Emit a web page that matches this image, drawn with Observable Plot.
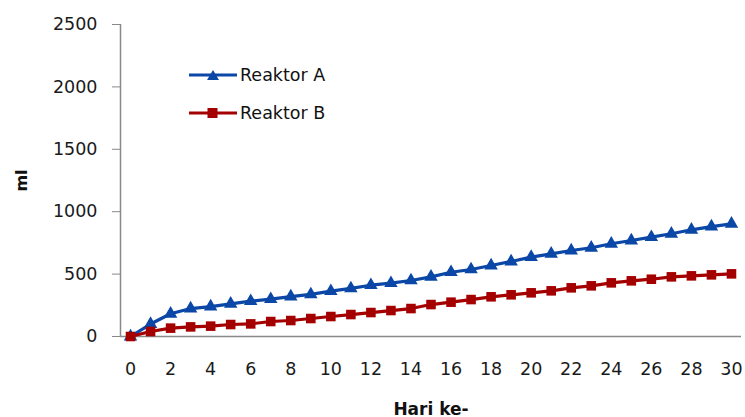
<!DOCTYPE html>
<html>
<head>
<meta charset="utf-8">
<script src="https://cdn.jsdelivr.net/npm/d3@7"></script>
<script src="https://cdn.jsdelivr.net/npm/@observablehq/plot@0.6"></script>
<style>
  html, body { margin: 0; padding: 0; background: #fff; }
  #wrap { position: relative; width: 745px; height: 417px; }
  .legend { position: absolute; left: 189px; font-family: "DejaVu Sans", sans-serif; font-size: 17.5px; color: #111; display: flex; align-items: center; height: 20px; line-height: 20px; }
  .legend svg { margin-right: 3px; }
</style>
</head>
<body>
<div id="wrap"></div>
<script>
const days = [0,1,2,3,4,5,6,7,8,9,10,11,12,13,14,15,16,17,18,19,20,21,22,23,24,25,26,27,28,29,30];
const reaktorA = [0,100,182,224,240,262,283,299,320,337,363,385,411,427,449,478,515,537,569,601,636,662,689,711,743,769,796,823,855,881,903];
const reaktorB = [0,40,67,77,83,96,101,120,128,144,160,176,192,208,224,256,275,296,318,334,350,366,390,406,430,446,459,478,486,494,502];
const seriesNames = ["Reaktor A", "Reaktor B"];
const seriesColors = ["#0a47a6", "#a50000"];
const yTicks = [0,500,1000,1500,2000,2500];
const xTicks = [0,2,4,6,8,10,12,14,16,18,20,22,24,26,28,30];
const xLabel = "Hari ke-";
const yLabel = "ml";

const rows = [];
days.forEach((d, i) => {
  rows.push({day: d, value: reaktorA[i], series: seriesNames[0]});
  rows.push({day: d, value: reaktorB[i], series: seriesNames[1]});
});
const A = rows.filter(r => r.series === seriesNames[0]);
const B = rows.filter(r => r.series === seriesNames[1]);

const font = "'DejaVu Sans', sans-serif";
const axisColor = "#898989";
const chart = Plot.plot({
  width: 745,
  height: 417,
  marginLeft: 120,
  marginRight: 4,
  marginTop: 24,
  marginBottom: 81,
  style: {fontFamily: font, fontSize: "17.5px", color: "#1a1a1a", background: "#fff"},
  x: {domain: [-0.5, 30.5], label: null},
  y: {domain: [0, 2500], label: null},
  marks: [
    Plot.axisY({ticks: yTicks, tickSize: 8, tickPadding: 15, stroke: axisColor, strokeOpacity: 1, tickFormat: d => String(d), fontSize: 17.5, label: null}),
    Plot.axisX({ticks: xTicks, tickSize: 0, tickPadding: 26, tickFormat: d => String(d), fontSize: 17.5, label: null}),
    Plot.ruleX([-0.5], {stroke: axisColor, strokeWidth: 1.5}),
    Plot.ruleY([0], {stroke: axisColor, strokeWidth: 1.5}),
    Plot.line(A, {x: "day", y: "value", stroke: seriesColors[0], strokeWidth: 3.2}),
    Plot.dot(A, {x: "day", y: "value", symbol: "triangle", r: 5, fill: seriesColors[0], stroke: "none"}),
    Plot.line(B, {x: "day", y: "value", stroke: seriesColors[1], strokeWidth: 3.2}),
    Plot.dot(B, {x: "day", y: "value", symbol: "square", r: 5.4, fill: seriesColors[1], stroke: "none"}),
    Plot.text([xLabel], {frameAnchor: "bottom", lineAnchor: "bottom", dy: 78, fontWeight: "bold", fontSize: 17, fill: "#111"}),
    Plot.text([yLabel], {frameAnchor: "left", textAnchor: "middle", lineAnchor: "middle", dx: -99, rotate: -90, fontWeight: "bold", fontSize: 16, fill: "#111"})
  ]
});
const wrap = document.getElementById("wrap");
wrap.appendChild(chart);

const legendTops = [65, 103];
seriesNames.forEach((name, i) => {
  const div = document.createElement("div");
  div.className = "legend";
  div.style.top = legendTops[i] + "px";
  const sym = i === 0
    ? `<polygon points="24,5 30,15 18,15" fill="${seriesColors[i]}"/>`
    : `<rect x="18.5" y="5" width="10" height="10" fill="${seriesColors[i]}"/>`;
  div.innerHTML = `<svg width="48" height="20"><line x1="0" x2="48" y1="10" y2="10" stroke="${seriesColors[i]}" stroke-width="3.2"/>${sym}</svg><span>${name}</span>`;
  wrap.appendChild(div);
});
</script>
</body>
</html>
